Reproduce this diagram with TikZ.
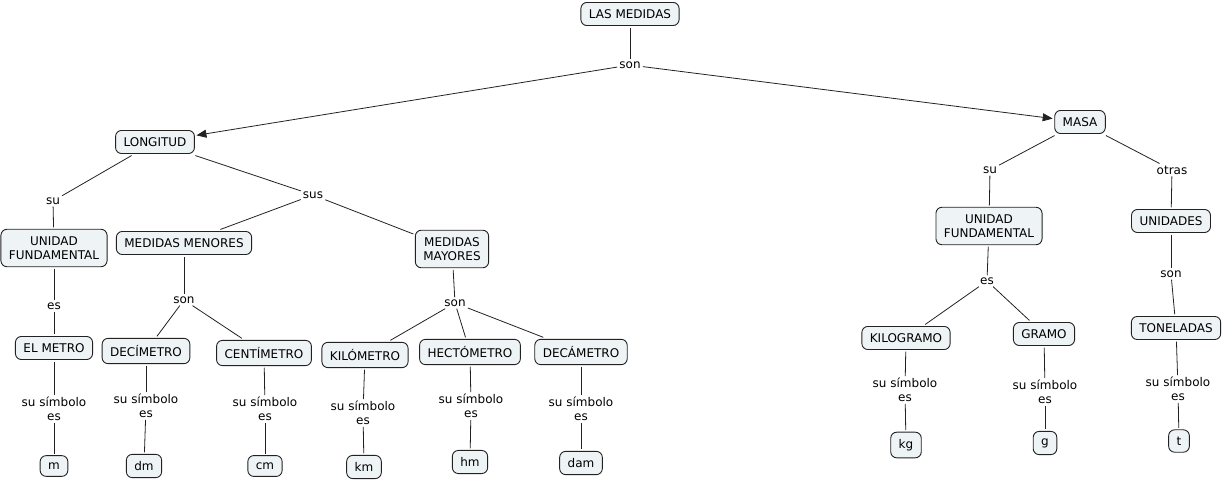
\documentclass[tikz,border=0pt]{standalone}
\usepackage{fontspec}
\setmainfont{DejaVu Sans}
\usepackage{tikz}
\usetikzlibrary{arrows,arrows.meta,shapes}

\definecolor{cfill}{HTML}{EEF3F6}
\definecolor{cline}{HTML}{222222}

\tikzset{
  concept/.style={draw=cline, fill=cfill, rounded corners=6pt, line width=0.9pt,
    inner xsep=8pt, inner ysep=7pt, align=center, outer sep=2pt,
    font=\fontsize{12}{14.5}\selectfont},
  phrase/.style={inner sep=2pt, align=center, font=\fontsize{12}{13.5}\selectfont},
  link/.style={draw=cline, line width=0.8pt},
  tip/.style={-{Triangle[length=10pt,width=8pt]}},
}

\begin{document}
\begin{tikzpicture}[x=1pt, y=-1pt]

\useasboundingbox (0,0) rectangle (1224,481);

% top
\node[concept] (med) at (630,14) {LAS MEDIDAS};
\node[phrase] (son1) at (630,65) {son};
\node[concept] (lon) at (155,142) {LONGITUD};
\node[concept] (masa) at (1080,122) {MASA};

% longitud
\node[phrase] (su1) at (53,201) {su};
\node[phrase] (sus) at (313,195) {sus};
\node[concept] (uf1) at (54,248) {UNIDAD\\FUNDAMENTAL};
\node[concept] (menores) at (184,243) {MEDIDAS MENORES};
\node[concept] (mayores) at (452,249) {MEDIDAS\\MAYORES};

\node[phrase] (es1) at (54,306) {es};
\node[phrase] (son2) at (184,300) {son};
\node[phrase] (son3) at (455,303) {son};

\node[concept] (metro) at (54,348) {EL METRO};
\node[concept] (deci) at (146,351) {DECÍMETRO};
\node[concept] (centi) at (264,353) {CENTÍMETRO};
\node[concept] (kilo) at (365,355) {KILÓMETRO};
\node[concept] (hecto) at (470,352) {HECTÓMETRO};
\node[concept] (deca) at (581,352) {DECÁMETRO};

\node[phrase] (ss1) at (54,409) {su símbolo\\es};
\node[phrase] (ss2) at (146,406) {su símbolo\\es};
\node[phrase] (ss3) at (265,409) {su símbolo\\es};
\node[phrase] (ss4) at (363,413) {su símbolo\\es};
\node[phrase] (ss5) at (471,406) {su símbolo\\es};
\node[phrase] (ss6) at (581,409) {su símbolo\\es};

\node[concept] (m) at (54,466) {m};
\node[concept] (dm) at (144,466) {dm};
\node[concept] (cm) at (265,466) {cm};
\node[concept] (km) at (364,467) {km};
\node[concept] (hm) at (470,462) {hm};
\node[concept] (dam) at (581,463) {dam};

% masa
\node[phrase] (su2) at (990,170) {su};
\node[phrase] (otras) at (1172,170) {otras};
\node[concept] (uf2) at (989,226) {UNIDAD\\FUNDAMENTAL};
\node[concept] (unid) at (1171,221) {UNIDADES};
\node[phrase] (es2) at (987,281) {es};
\node[phrase] (son4) at (1171,274) {son};
\node[concept] (kgr) at (906,338) {KILOGRAMO};
\node[concept] (gramo) at (1044,334) {GRAMO};
\node[concept] (ton) at (1176,328) {TONELADAS};
\node[phrase] (ss7) at (905,390) {su símbolo\\es};
\node[phrase] (ss8) at (1045,392) {su símbolo\\es};
\node[phrase] (ss9) at (1178,389) {su símbolo\\es};
\node[concept] (kg) at (906,445) {kg};
\node[concept] (g) at (1045,443) {g};
\node[concept] (t) at (1179,441) {t};

% connectors
\draw[link] (med) -- (son1);
\draw[link,tip] (son1) -- (lon);
\draw[link,tip] (son1) -- (masa);

\draw[link] (lon) -- (su1);
\draw[link] (su1) -- (uf1);
\draw[link] (uf1) -- (es1);
\draw[link] (es1) -- (metro);
\draw[link] (metro) -- (ss1);
\draw[link] (ss1) -- (m);

\draw[link] (lon) -- (sus);
\draw[link] (sus) -- (menores);
\draw[link] (sus) -- (mayores);

\draw[link] (menores) -- (son2);
\draw[link] (son2) -- (deci);
\draw[link] (son2) -- (centi);
\draw[link] (mayores) -- (son3);
\draw[link] (son3) -- (kilo);
\draw[link] (son3) -- (hecto);
\draw[link] (son3) -- (deca);

\draw[link] (deci) -- (ss2);
\draw[link] (ss2) -- (dm);
\draw[link] (centi) -- (ss3);
\draw[link] (ss3) -- (cm);
\draw[link] (kilo) -- (ss4);
\draw[link] (ss4) -- (km);
\draw[link] (hecto) -- (ss5);
\draw[link] (ss5) -- (hm);
\draw[link] (deca) -- (ss6);
\draw[link] (ss6) -- (dam);

\draw[link] (masa) -- (su2);
\draw[link] (su2) -- (uf2);
\draw[link] (uf2) -- (es2);
\draw[link] (es2) -- (kgr);
\draw[link] (es2) -- (gramo);
\draw[link] (kgr) -- (ss7);
\draw[link] (ss7) -- (kg);
\draw[link] (gramo) -- (ss8);
\draw[link] (ss8) -- (g);

\draw[link] (masa) -- (otras);
\draw[link] (otras) -- (unid);
\draw[link] (unid) -- (son4);
\draw[link] (son4) -- (ton);
\draw[link] (ton) -- (ss9);
\draw[link] (ss9) -- (t);

\end{tikzpicture}
\end{document}
